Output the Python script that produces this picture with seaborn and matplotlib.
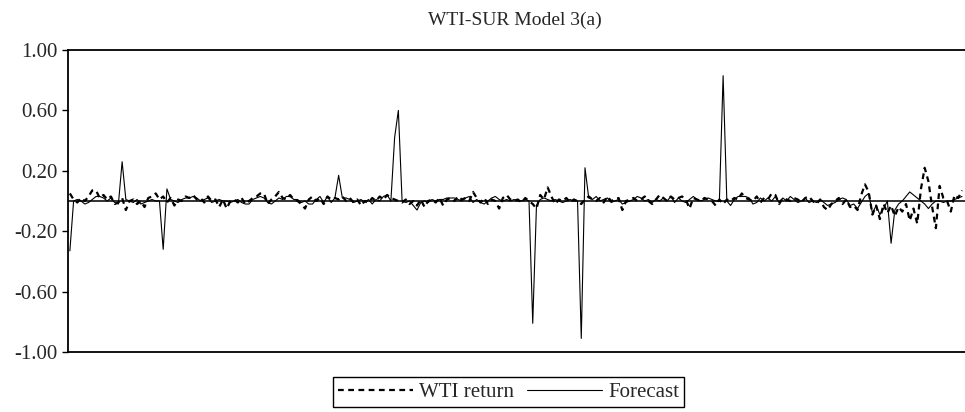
import numpy as np
import pandas as pd
import matplotlib
matplotlib.use("Agg")
import matplotlib.pyplot as plt
from matplotlib.ticker import FixedLocator, FuncFormatter
import seaborn as sns

title = "WTI-SUR Model 3(a)"
series_names = ["WTI return", "Forecast"]
y_ticks = [-1.00, -0.60, -0.20, 0.20, 0.60, 1.00]

wti_return = [
    0.05, 0.01, -0.01, 0.02, 0.00, 0.03, 0.07, 0.07, 0.02, 0.04,
    0.01, 0.03, -0.02, -0.01, 0.02, -0.06, 0.00, 0.01, -0.02, 0.00,
    -0.04, 0.02, 0.03, 0.05, 0.01, 0.03, -0.01, 0.02, -0.03, 0.01,
    0.00, 0.03, 0.02, 0.04, 0.01, 0.02, -0.01, 0.03, 0.00, 0.01,
    -0.04, 0.01, -0.05, 0.00, 0.01, -0.01, 0.02, -0.02, 0.00, 0.02,
    0.03, 0.05, 0.05, -0.02, 0.01, 0.03, 0.06, 0.02, 0.01, 0.04,
    0.01, 0.00, -0.02, -0.05, 0.01, 0.03, 0.00, 0.02, -0.02, 0.03,
    0.01, 0.02, 0.01, 0.03, 0.00, 0.02, -0.01, 0.01, -0.03, 0.00,
    -0.01, 0.02, 0.00, 0.03, 0.01, 0.04, 0.02, 0.01, 0.00, -0.01,
    0.01, -0.02, 0.00, -0.03, 0.01, -0.04, 0.00, 0.01, -0.01, 0.02,
    -0.03, 0.01, 0.02, 0.00, 0.03, 0.01, 0.02, 0.00, 0.06, 0.02,
    -0.01, 0.02, -0.02, 0.01, 0.00, -0.05, 0.02, 0.04, 0.01, 0.00,
    0.01, -0.01, 0.02, 0.00, -0.02, -0.05, 0.04, 0.01, 0.09, 0.03,
    -0.02, 0.01, 0.00, 0.02, -0.01, 0.01, 0.00, -0.02, 0.01, 0.03,
    0.01, 0.00, 0.02, -0.01, 0.03, 0.00, 0.01, 0.02, -0.06, 0.00,
    0.01, 0.02, 0.00, 0.01, 0.03, 0.00, -0.02, 0.01, 0.04, 0.02,
    0.00, 0.03, 0.01, 0.02, 0.03, 0.01, -0.05, 0.02, 0.01, 0.00,
    0.02, 0.01, 0.00, -0.03, 0.01, -0.02, 0.01, 0.00, 0.02, 0.01,
    0.05, 0.02, 0.01, 0.00, 0.03, -0.01, 0.02, 0.01, 0.05, 0.04,
    -0.02, 0.02, 0.01, 0.00, 0.02, 0.01, -0.01, 0.02, 0.03, 0.00,
    -0.02, 0.01, -0.04, -0.06, -0.02, 0.00, 0.02, -0.02, 0.01, -0.04,
    -0.03, -0.06, 0.04, 0.11, 0.06, -0.09, -0.03, -0.12, -0.02, -0.08,
    -0.03, -0.10, -0.04, -0.07, -0.02, -0.13, -0.05, -0.15, 0.08, 0.22,
    0.13, -0.04, -0.18, 0.10, 0.02, 0.00, -0.07, 0.04, 0.02, 0.07,
]

forecast = [
    -0.33, 0.00, 0.01, 0.00, -0.02, -0.01, 0.01, 0.03, 0.03, 0.02,
    0.00, 0.02, -0.01, -0.02, 0.26, 0.01, 0.00, -0.01, 0.01, -0.02,
    -0.01, 0.00, 0.01, 0.00, 0.00, -0.32, 0.08, 0.01, 0.00, -0.01,
    0.01, 0.02, 0.02, 0.03, 0.02, 0.00, 0.01, 0.02, -0.01, 0.00,
    0.01, 0.00, 0.00, -0.01, 0.00, 0.01, -0.01, -0.02, -0.02, 0.01,
    0.02, 0.03, 0.02, -0.01, -0.02, 0.00, 0.02, 0.01, 0.03, 0.03,
    0.01, 0.01, -0.01, 0.00, -0.02, -0.02, 0.01, 0.03, -0.01, 0.03,
    -0.01, 0.02, 0.17, 0.02, 0.02, 0.01, -0.01, 0.00, 0.01, -0.01,
    0.01, -0.02, 0.01, 0.00, 0.03, 0.04, 0.00, 0.42, 0.60, 0.00,
    -0.01, 0.00, -0.03, -0.06, -0.01, 0.00, -0.01, 0.01, 0.00, 0.01,
    0.01, 0.02, 0.02, 0.02, 0.01, 0.00, 0.02, 0.03, -0.01, 0.01,
    -0.01, -0.02, 0.00, 0.02, 0.03, 0.01, 0.00, 0.01, 0.00, 0.01,
    0.00, 0.00, 0.01, 0.00, -0.81, -0.03, 0.01, 0.02, 0.01, 0.00,
    0.01, 0.00, -0.01, 0.00, 0.01, 0.00, 0.00, -0.91, 0.22, 0.02,
    0.01, 0.03, 0.00, 0.01, 0.02, -0.01, 0.00, 0.01, -0.02, -0.01,
    0.00, 0.01, 0.03, 0.02, 0.00, 0.01, -0.01, 0.01, 0.00, 0.02,
    0.00, 0.03, -0.01, 0.02, 0.00, -0.01, 0.01, 0.03, 0.01, 0.00,
    0.01, 0.02, 0.01, 0.00, 0.00, 0.83, 0.00, -0.03, 0.01, 0.03,
    0.03, 0.03, 0.02, -0.02, -0.01, 0.02, 0.00, 0.02, 0.00, 0.03,
    -0.01, 0.02, 0.00, 0.03, 0.01, -0.01, 0.00, 0.02, -0.01, 0.00,
    -0.01, 0.01, -0.01, -0.03, -0.02, -0.01, 0.01, 0.02, 0.01, -0.03,
    -0.02, -0.05, -0.01, 0.03, 0.05, -0.08, -0.03, -0.09, -0.05, 0.00,
    -0.28, -0.06, -0.02, 0.00, 0.03, 0.06, 0.04, 0.02, 0.00, -0.02,
    -0.05, -0.02, 0.00, 0.00, -0.01, 0.00, 0.00, 0.01, 0.02, 0.03,
]

df = pd.DataFrame({
    "t": np.arange(len(forecast)),
    series_names[0]: wti_return,
    series_names[1]: forecast,
})

sns.set_theme(style="white")
plt.rcParams["font.family"] = ["Liberation Serif", "DejaVu Serif"]
plt.rcParams["axes.unicode_minus"] = False

fig = plt.figure(figsize=(9.65, 4.12), dpi=100)
ax = fig.add_axes([68 / 965, 1 - 352 / 412, 1 - 68 / 965, (352 - 50) / 412])

ax.axhline(0, color="#222222", lw=1.3, zorder=1.5)
sns.lineplot(data=df, x="t", y=series_names[0], ax=ax, color="black",
             lw=1.6, linestyle=(0, (2.6, 2.0)), label=series_names[0], zorder=2)
sns.lineplot(data=df, x="t", y=series_names[1], ax=ax, color="black",
             lw=0.8, label=series_names[1], zorder=3)

ax.set_xlim(-0.5, len(forecast) - 0.2)
ax.set_ylim(-1.0, 1.0)
ax.set_xlabel("")
ax.set_ylabel("")
ax.set_xticks([])
ax.yaxis.set_major_locator(FixedLocator(y_ticks))
ax.yaxis.set_major_formatter(FuncFormatter(lambda v, p: f"{v:.2f}"))
ax.tick_params(axis="y", which="major", direction="out", length=4.5, width=1.0,
               color="black", labelsize=15, pad=3, left=True)

for side in ["left", "top", "bottom"]:
    ax.spines[side].set_visible(True)
    ax.spines[side].set_color("black")
    ax.spines[side].set_linewidth(1.3)
ax.spines["right"].set_visible(False)

ax.get_legend().remove()
handles, labels = ax.get_legend_handles_labels()
fig.legend(handles, labels, loc="upper left", ncol=2,
           bbox_to_anchor=(333 / 965, 1 - 377 / 412), fontsize=15,
           frameon=True, fancybox=False, edgecolor="black", framealpha=1,
           handlelength=3.6, handletextpad=0.3, columnspacing=0.6,
           borderpad=0.25, borderaxespad=0)

fig.text(515 / 965, 1 - 20 / 412, title, ha="center", va="center", fontsize=14)

fig.savefig("out.png", dpi=100)
